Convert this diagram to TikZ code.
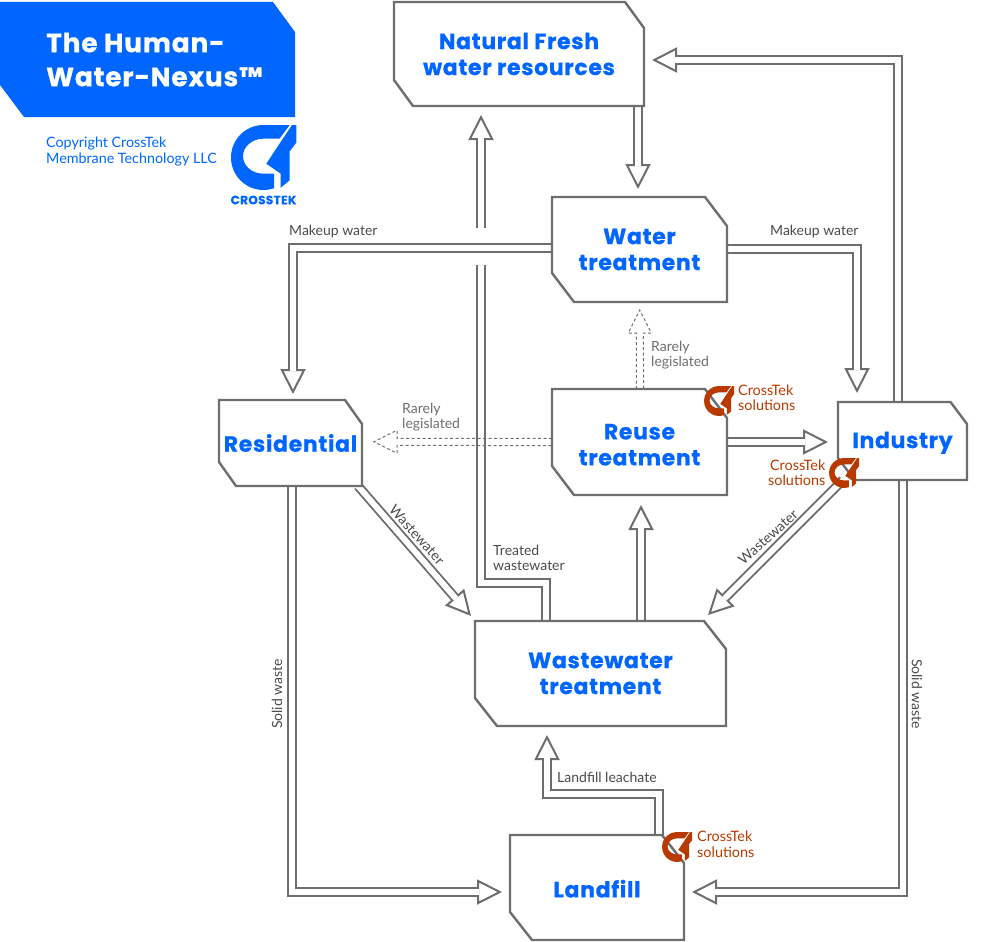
\documentclass[tikz,border=0pt]{standalone}
\usepackage{fontspec}
\usepackage{tikz}
\usetikzlibrary{arrows.meta,backgrounds}
\setmainfont{Lato}
\newfontfamily\headfont[LetterSpace=3,BoldFeatures={FakeBold=0.6}]{Poppins}
\definecolor{ctblue}{HTML}{0066FF}
\definecolor{ctred}{HTML}{B83A00}
\definecolor{ctgray}{HTML}{6E6E6E}
\definecolor{cttext}{HTML}{4A4A4A}
\tikzset{
  stagebox/.style={rectangle,inner sep=0pt,outer sep=0pt,
    align=center,text=ctblue,font=\headfont\fontsize{22}{26}\selectfont\bfseries},
  stageline/.style={draw=ctgray,line width=2.4pt,fill=white,line join=miter},
  pipe/.style={draw=ctgray,line width=2pt,double=white,double distance=5.6pt,line join=miter},
  pipearrow/.style={pipe,-{Triangle[length=25pt,width=25pt,line width=2pt,fill=white]},
    postaction={draw=white,line width=5.6pt,-,shorten >=23pt}},
  dashpipe/.style={draw=ctgray,line width=1pt,dash pattern=on 3pt off 2.5pt},
  flowlabel/.style={text=cttext,font=\fontsize{14}{15.5}\selectfont,align=left},
  redlabel/.style={text=ctred,font=\fontsize{14.4}{15.5}\selectfont,align=left},
  ctlogo/.pic={
    \fill[x=1pt,y=1pt] (26.2,32.5)--(0,32.5) arc[start angle=90,end angle=289,radius=32.5pt]
      --(10.5,-16.2)--(0,-16.2) arc[start angle=270,end angle=90,x radius=20.5pt,y radius=17.5pt]
      --(16,18.8)--cycle;
    \fill[x=1pt,y=1pt] (28.5,32.5)--(32.8,32.5)--(32.8,14.8)--(26.2,6.2)--(26.2,-22.8)--(17.2,-30.2)--(17.2,-16.2)--(2.8,-6.2)--cycle;
  }
}
\begin{document}
\begin{tikzpicture}[x=1pt,y=-1pt]
\useasboundingbox (0,0) rectangle (994,942);
% title block
\fill[ctblue] (0,2)--(273,2)--(295,32)--(295,117)--(24,117)--(0,85)--cycle;
\node (title) at (46,59.5) [anchor=west,inner sep=0pt,align=left,text=white,font=\headfont\fontsize{26.5}{34}\selectfont\bfseries]{The Human-\\Water-Nexus™};
\node (copyright) at (46,152) [anchor=west,inner sep=0pt,align=left,text=ctblue,font=\fontsize{14.3}{16}\selectfont]{Copyright CrossTek\\Membrane Technology LLC};
\pic[ctblue] at (263.5,157.5) {ctlogo};
\node (brand) at (263.5,200) [inner sep=0pt,text=ctblue,font=\headfont\fontsize{12}{14}\selectfont\bfseries]{CROSSTEK};
% stages
\node (fresh) at (519,54) [stagebox,minimum width=250,minimum height=104]{Natural Fresh\\water resources};
\node (water) at (639.5,249.5) [stagebox,minimum width=175,minimum height=105]{Water\\treatment};
\node (reuse) at (639.5,442) [stagebox,minimum width=175,minimum height=106]{\rule{0pt}{21pt}Reuse\\treatment};
\node (residential) at (290.5,443) [stagebox,minimum width=143,minimum height=86]{Residential};
\node (industry) at (902.5,441) [stagebox,minimum width=129,minimum height=78,text height=20pt]{Industry};
\node (wastewater) at (600.5,673.5) [stagebox,minimum width=251,minimum height=105]{Wastewater\\treatment};
\node (landfill) at (597,887.5) [stagebox,minimum width=174,minimum height=105,text height=20pt]{Landfill};
% free ends and bends
\coordinate (gaplow) at (481,265);
\coordinate (gaphigh) at (481,228);
\begin{scope}[on background layer]
\draw[pipearrow] (fresh.south -| water.north) ++(-1.5,0)--++(0,83);
\draw[pipearrow] (industry.north) ++(-4.5,0)|-(652,60);
\draw[pipearrow] ([yshift=1.5pt]water.west)-|(293,394);
\draw[pipearrow] ([yshift=0.5pt]water.east)-|(857,393);
\draw[pipearrow] ([xshift=1.5pt]reuse.south |- wastewater.north)--++(0,-116);
\draw[pipearrow] (reuse.east)--(828,442);
\draw[pipearrow] ([xshift=67.5pt]residential.south)--(471,616);
\draw[pipearrow] ([xshift=-59.5pt]industry.south)--(708,615);
\draw[pipearrow] ([xshift=1.5pt]residential.south)|-(502,892);
\draw[pipearrow] ([xshift=0.5pt]industry.south)|-(692,892);
\draw[pipearrow] ([xshift=62pt]landfill.north)--++(0,-41)-|(547,735);
\draw[pipe] ([xshift=-54.5pt]wastewater.north)--++(0,-38)-|(gaplow);
\draw[pipearrow] (gaphigh)--(481,115);
% stage outlines
\foreach \stagename/\cutx/\cuty in {fresh/19/26,water/22/29,reuse/22/29,residential/17/24,industry/16.5/22,wastewater/22/28,landfill/22/28}{
\draw[stageline] (\stagename.north west)--([xshift=-\cutx pt]\stagename.north east)--([yshift=-\cuty pt]\stagename.north east)--(\stagename.south east)--([xshift=\cutx pt]\stagename.south west)--([yshift=\cuty pt]\stagename.south west)--cycle;
}
\end{scope}
% rarely used routes
\draw[dashpipe] ([xshift=-3.2pt]reuse.north)--++(0,-56)--++(-8,0)--++(11.5,-23)--++(11.5,23)--++(-8,0)--([xshift=4.2pt]reuse.north);
\draw[dashpipe] ([yshift=3.7pt]reuse.west)--++(-155,0)--++(0,-8)--++(-23,11.5)--++(23,11.5)--++(0,-8)--([yshift=-3.7pt]reuse.west);
% labels
\node (makeupl) at (289,231.5) [flowlabel,anchor=west,inner sep=0pt]{Makeup water};
\node (makeupr) at (770,231.5) [flowlabel,anchor=west,inner sep=0pt]{Makeup water};
\node (rarelya) at (651,355) [flowlabel,anchor=west,inner sep=0pt,text=ctgray]{Rarely\\legislated};
\node (rarelyb) at (402,417) [flowlabel,anchor=west,inner sep=0pt,text=ctgray]{Rarely\\legislated};
\node (treated) at (493,558) [flowlabel,anchor=west,inner sep=0pt]{Treated\\wastewater};
\node (leachate) at (557,777) [flowlabel,anchor=west,inner sep=0pt]{Landfill leachate};
\node (wastel) at (417,535) [flowlabel,inner sep=0pt,rotate=-48]{Wastewater};
\node (waster) at (768,537) [flowlabel,inner sep=0pt,rotate=42]{Wastewater};
\node (solidl) at (277,694) [flowlabel,inner sep=0pt,rotate=90]{Solid waste};
\node (solidr) at (917,694) [flowlabel,inner sep=0pt,rotate=-90]{Solid waste};
% solution marks
\pic[ctred,scale=0.46] at (719,401) {ctlogo};
\pic[ctred,scale=0.46] at (844,473) {ctlogo};
\pic[ctred,scale=0.46] at (677,847) {ctlogo};
\node (solreuse) at (738,398) [redlabel,anchor=west,inner sep=0pt]{CrossTek\\solutions};
\node (solindustry) at (825.5,473) [redlabel,anchor=east,inner sep=0pt,align=right]{CrossTek\\solutions};
\node (sollandfill) at (697,844) [redlabel,anchor=west,inner sep=0pt]{CrossTek\\solutions};
\end{tikzpicture}
\end{document}
